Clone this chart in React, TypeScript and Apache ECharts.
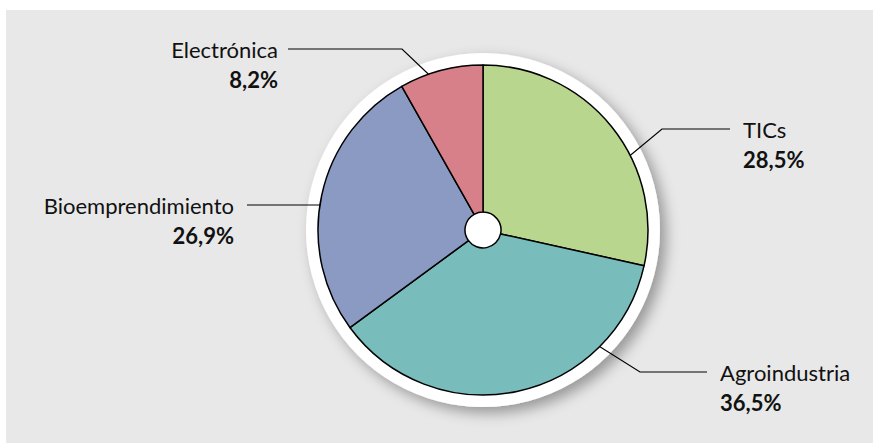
import React, { useEffect, useRef } from "react";
import * as echarts from "echarts";

const categories = ["TICs", "Agroindustria", "Bioemprendimiento", "Electrónica"];
const values = [28.5, 36.5, 26.9, 8.2];
const colors = ["#b9d68e", "#79bcbc", "#8a9ac2", "#d8808a"];

// label layout (pixel positions of the label blocks and their leader lines)
const labelPos: { x: number; y: number; align: "left" | "right"; line: number[][] }[] = [
  { x: 743, y: 114, align: "left", line: [[615, 168], [662, 129], [730, 129]] },
  { x: 720, y: 357, align: "left", line: [[586, 338], [640, 372], [707, 372]] },
  { x: 234, y: 190, align: "right", line: [[345, 205], [296, 205], [247, 205]] },
  { x: 278, y: 34, align: "right", line: [[443, 88], [402, 49], [288, 49]] },
];

const FONT = "Lato";

export default function App() {
  const ref = useRef<HTMLDivElement>(null);
  useEffect(() => {
    if (!ref.current) return;
    const chart = echarts.init(ref.current, undefined, { renderer: "svg" });
    const center = [483, 230];
    chart.setOption({
      animation: false,
      graphic: [
        {
          type: "rect",
          z: -10,
          silent: true,
          shape: { x: 6, y: 10, width: 867, height: 433 },
          style: { fill: "#e8e8e8" },
        },
      ],
      series: [
        {
          type: "pie",
          silent: true,
          z: 1,
          center,
          radius: [0, 177],
          label: { show: false },
          labelLine: { show: false },
          data: [{ value: 1, name: "ring" }],
          itemStyle: {
            color: "#ffffff",
            shadowBlur: 14,
            shadowOffsetX: 6,
            shadowOffsetY: 6,
            shadowColor: "rgba(0,0,0,0.35)",
          },
          emphasis: { disabled: true },
        },
        {
          type: "pie",
          silent: true,
          z: 3,
          center,
          radius: [18, 165],
          startAngle: 90,
          clockwise: true,
          avoidLabelOverlap: false,
          data: categories.map((c, i) => ({
            name: c,
            value: values[i],
            itemStyle: { color: colors[i] },
          })),
          itemStyle: { borderColor: "#000000", borderWidth: 1.5 },
          label: {
            show: true,
            position: "outside",
            formatter: (p: any) =>
              `{n|${p.name}}\n{p|${String(p.value).replace(".", ",")}%}`,
            rich: {
              n: { fontFamily: FONT, fontSize: 22, color: "#111", lineHeight: 30 },
              p: { fontFamily: FONT, fontSize: 22, fontWeight: "bold", color: "#111", lineHeight: 30 },
            },
          },
          labelLine: {
            show: true,
            lineStyle: { color: "#000000", width: 1.2 },
          },
          labelLayout: (params: any) => {
            const lp = labelPos[params.dataIndex];
            return {
              x: lp.x,
              y: lp.y,
              align: lp.align,
              verticalAlign: "top",
              labelLinePoints: lp.line,
            };
          },
          emphasis: { disabled: true },
        },
      ],
    });
    return () => chart.dispose();
  }, []);
  return (
    <div
      ref={ref}
      style={{ position: "absolute", left: 0, top: 0, width: 873, height: 443 }}
    />
  );
}
